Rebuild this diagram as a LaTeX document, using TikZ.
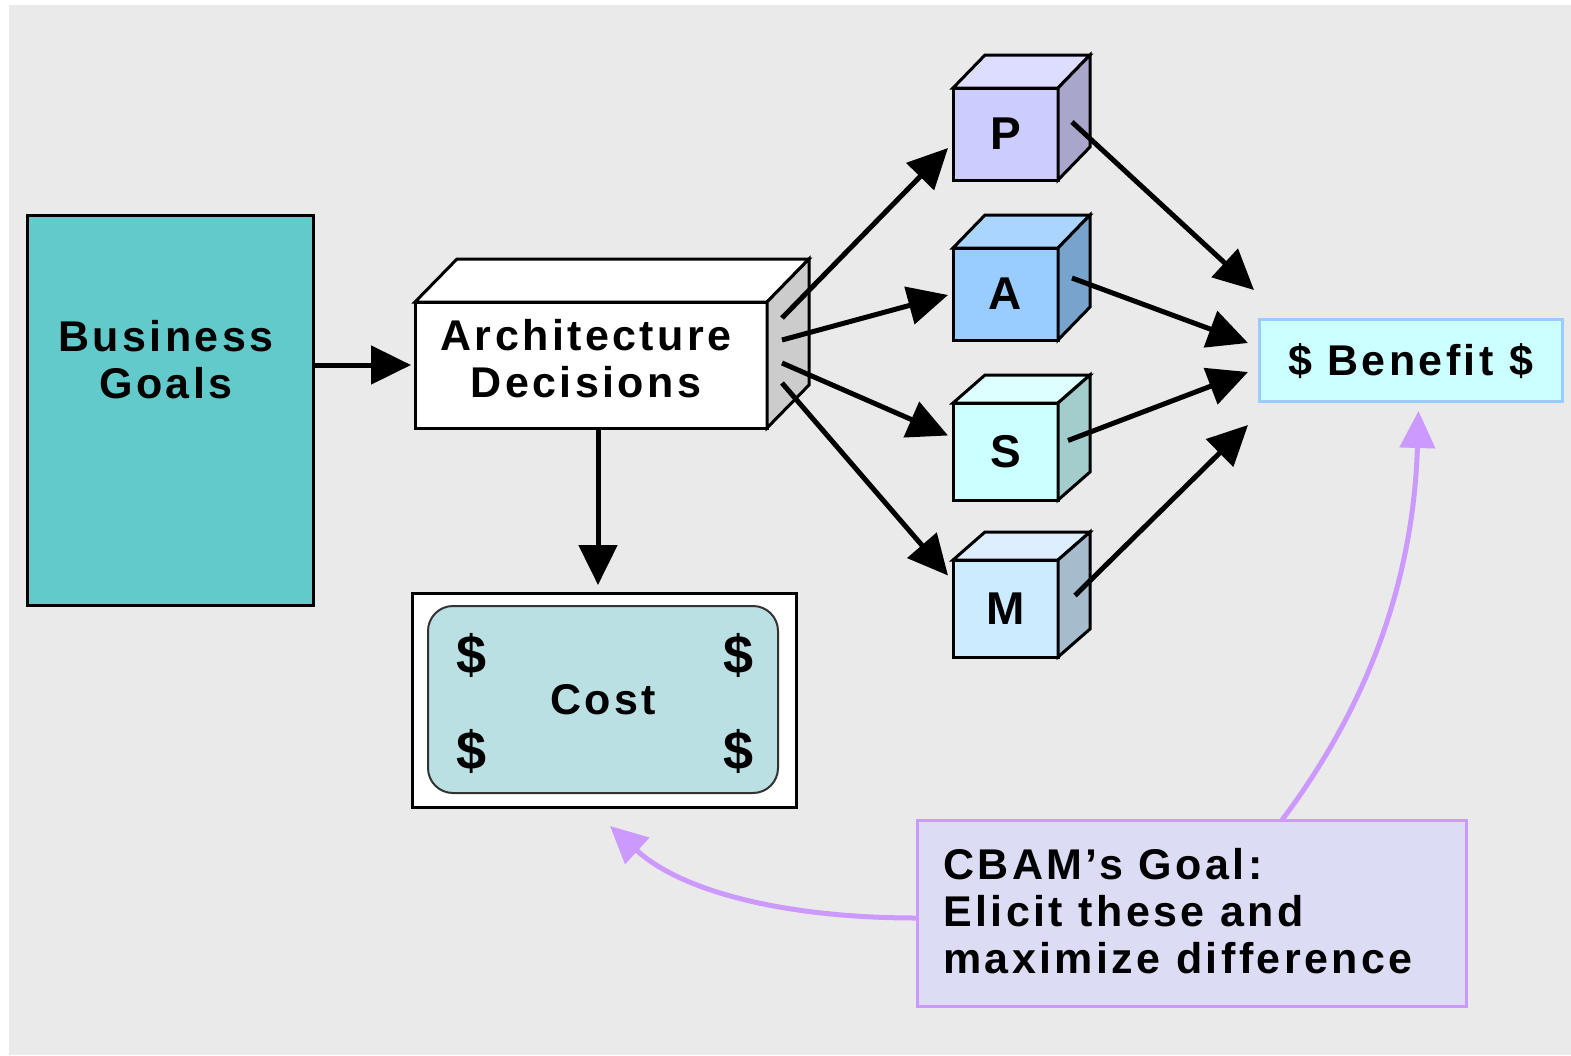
\documentclass[tikz,border=0pt]{standalone}
\usepackage{fontspec}
\setmainfont{Liberation Sans}
\newfontfamily\spacedfont[LetterSpace=8]{Liberation Sans}
\usetikzlibrary{arrows.meta,calc}

% palette
\definecolor{bgcol}{HTML}{EAEAEA}
\definecolor{goalfill}{HTML}{62CACA}
\definecolor{sidegray}{HTML}{CCCCCC}
\definecolor{costfill}{HTML}{BBE0E3}
\definecolor{costedge}{HTML}{333333}
\definecolor{benfill}{HTML}{CCFFFF}
\definecolor{benedge}{HTML}{99CCFF}
\definecolor{cbamfill}{HTML}{DCDCF5}
\definecolor{purp}{HTML}{CC99FF}
\definecolor{Pfront}{HTML}{CCCCFF}
\definecolor{Ptop}{HTML}{DDDDFF}
\definecolor{Pside}{HTML}{A9A6CC}
\definecolor{Afront}{HTML}{99CCFF}
\definecolor{Atop}{HTML}{AAD5FF}
\definecolor{Aside}{HTML}{77A3CC}
\definecolor{Sfront}{HTML}{CCFFFF}
\definecolor{Stop}{HTML}{DDFFFF}
\definecolor{Sside}{HTML}{A3CCCC}
\definecolor{Mfront}{HTML}{CCEBFF}
\definecolor{Mtop}{HTML}{DDEEFF}
\definecolor{Mside}{HTML}{A6BBCC}

\newcommand\diafont{\spacedfont\bfseries\fontsize{43}{47}\selectfont}
\newcommand\cubefont{\spacedfont\bfseries\fontsize{46}{50}\selectfont}
\newcommand\dollarfont{\bfseries\fontsize{54}{58}\selectfont}

% top and right faces of a box whose front face is node #1,
% receding by (#2 right, #3 up)
\newcommand\boxfaces[5]{%
  \path (#1.north west) ++(#2,-#3) coordinate (#1-tl)
        (#1.north east) ++(#2,-#3) coordinate (#1-tr)
        (#1.south east) ++(#2,-#3) coordinate (#1-br);
  \filldraw[fill=#4,face] (#1.north west) -- (#1-tl) -- (#1-tr) -- (#1.north east) -- cycle;
  \filldraw[fill=#5,face] (#1.north east) -- (#1-tr) -- (#1-br) -- (#1.south east) -- cycle;}

\begin{document}
\begin{tikzpicture}[x=1pt,y=-1pt,
  face/.style={draw=black,line width=3pt,line join=miter},
  box/.style={draw=black,line width=3pt,outer sep=0pt,inner sep=0pt},
  txt/.style={inner sep=0pt,font=\diafont},
  cube/.style={box,minimum width=105pt,font=\cubefont},
  arr/.style={line width=5pt,-{Triangle[length=40pt,width=38pt]}},
  parr/.style={draw=purp,line width=5pt,-{Triangle[length=37pt,width=35pt]}}]

\useasboundingbox (0,0) rectangle (1571,1055);
\fill[white] (0,0) rectangle (1571,1055);
\fill[bgcol] (9,5) rectangle (1571,1055);

% business goals
\node[box,fill=goalfill,minimum width=286pt,minimum height=390pt] (goals) at (170,410) {};
\node[txt,align=center] (goalstext) at (166,360) {Business\\Goals};

% architecture decisions block
\node[box,fill=white,minimum width=352pt,minimum height=126pt] (arch) at (591,365) {};
\boxfaces{arch}{42}{43}{white}{sidegray}
\node[txt,align=center] (archtext) at (586,359) {Architecture\\Decisions};

% cost banknote
\node[box,fill=white,minimum width=384pt,minimum height=214pt] (cost) at (604,700) {};
\node[draw=costedge,line width=2pt,rounded corners=25pt,fill=costfill,
      minimum width=350pt,minimum height=187pt,outer sep=0pt,font=\diafont]
      (costin) at (603,699.5) {Cost};
\node[inner sep=0pt,font=\dollarfont] (d1) at (471.5,655) {\$};
\node[inner sep=0pt,font=\dollarfont] (d2) at (738.5,655) {\$};
\node[inner sep=0pt,font=\dollarfont] (d3) at (471.5,751) {\$};
\node[inner sep=0pt,font=\dollarfont] (d4) at (738.5,751) {\$};

% quality attribute cubes
\node[cube,fill=Pfront,minimum height=92pt] (P) at (1005.5,134) {P};
\boxfaces{P}{32}{33}{Ptop}{Pside}
\node[cube,fill=Afront,minimum height=92pt] (A) at (1005.5,294) {A};
\boxfaces{A}{32}{33}{Atop}{Aside}
\node[cube,fill=Sfront,minimum height=97pt] (S) at (1005.5,451.5) {S};
\boxfaces{S}{32}{28}{Stop}{Sside}
\node[cube,fill=Mfront,minimum height=97pt] (M) at (1005.5,608.5) {M};
\boxfaces{M}{32}{28}{Mtop}{Mside}

% benefit
\node[draw=benedge,line width=3pt,fill=benfill,minimum width=303pt,minimum height=82pt,
      outer sep=0pt,font=\diafont,text height=31pt,text depth=0pt] (benefit) at (1410.5,360) {\$ Benefit \$};

% goal note
\node[draw=purp,line width=3pt,fill=cbamfill,minimum width=549pt,minimum height=186pt,outer sep=0pt] (cbam) at (1191.5,913) {};
\node[txt,anchor=west,align=left] (cbamtext) at (943,911) {CBAM’s Goal:\\Elicit these and\\maximize difference};

% connectors
\draw[arr,shorten >=4pt] (goals.east |- arch.west) -- (arch.west);
\draw[arr,shorten >=8pt] ([xshift=7pt]arch.south) -- ([xshift=-6pt]cost.north);

\coordinate (o1) at ($(arch.east)+(15,-47)$);
\coordinate (o2) at ($(arch.east)+(15,-25)$);
\coordinate (o3) at ($(arch.east)+(15,-2)$);
\coordinate (o4) at ($(arch.east)+(15,18)$);
\draw[arr] (o1) -- ($(P.west)+(-5,14)$);
\draw[arr] (o2) -- ($(A.west)+(-5,1)$);
\draw[arr] (o3) -- ($(S.west)+(-5,-16)$);
\draw[arr] (o4) -- ($(M.west)+(-5,-33)$);

\draw[arr] ($(P.east)+(14,-12)$) -- ($(benefit.west)+(-5,-70)$);
\draw[arr] ($(A.east)+(14,-16)$) -- ($(benefit.west)+(-11,-17)$);
\draw[arr] ($(S.east)+(10,-11)$) -- ($(benefit.west)+(-11,12)$);
\draw[arr] ($(M.east)+(17,-13)$) -- ($(benefit.west)+(-11,65)$);

\draw[parr] ([xshift=90.5pt]cbam.north) .. controls (1380,690) and (1414,560) .. ($(benefit.south)+(8,10)$);
\draw[parr] ([yshift=-5pt]cbam.west) .. controls (780,918) and (680,890) .. ($(cost.south)+(6,19)$);
\end{tikzpicture}
\end{document}
